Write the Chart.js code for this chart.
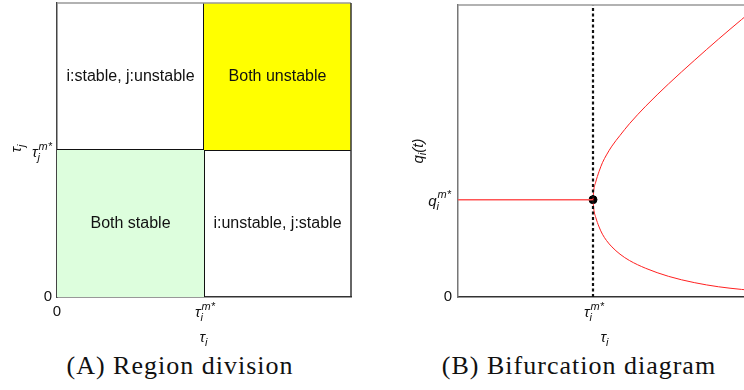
<!DOCTYPE html>
<html>
<head>
<meta charset="utf-8">
<script src="https://cdn.jsdelivr.net/npm/chart.js@4/dist/chart.umd.min.js"></script>
<style>
  html, body { margin:0; padding:0; background:#fff; overflow:hidden; width:744px; height:390px; }
  #wrapA { position:absolute; left:0; top:0; width:372px; height:350px; }
  #wrapB { position:absolute; left:380px; top:0; width:380px; height:350px; }
  .cap { position:absolute; top:351px; font-family:"Liberation Serif","DejaVu Serif",serif; font-size:26px; letter-spacing:1px; color:#111; white-space:nowrap; transform:translateX(-50%); }
</style>
</head>
<body>
<div id="wrapA"><canvas id="cA" width="372" height="350"></canvas></div>
<div id="wrapB"><canvas id="cB" width="380" height="350"></canvas></div>
<div class="cap" style="left:180px">(A) Region division</div>
<div class="cap" style="left:579px">(B) Bifurcation diagram</div>
<script>
// ---------- data: panel A (region division) ----------
const regionTicks = [0, 1];               // 0 and tau^{m*}
const regionNames = ['i:stable, j:unstable', 'Both unstable', 'Both stable', 'i:unstable, j:stable'];
const regionX = [0.5, 1.5, 0.5, 1.5];
const regionY = [1.5, 1.5, 0.5, 0.5];
const unstableX = [1, 2];   const unstableY = [2, 2];   // filled down to y = 1
const stableX = [0, 1];     const stableY = [1, 1];     // filled down to y = 0

// ---------- data: panel B (bifurcation) ----------
const tauStable = [0, 1];
const qStable = [1, 1];
const tauBranch = [1.0, 1.005, 1.02, 1.045, 1.07, 1.1, 1.14, 1.2, 1.27, 1.39, 1.56, 1.75, 1.93, 2.1, 2.15];
const qUpper    = [1.0, 1.09, 1.18, 1.29, 1.38, 1.46, 1.55, 1.66, 1.78, 1.96, 2.19, 2.43, 2.65, 2.85, 2.908];
const qLower    = [1.0, 0.91, 0.82, 0.72, 0.645, 0.58, 0.515, 0.44, 0.375, 0.295, 0.212, 0.148, 0.105, 0.078, 0.072];
const bifTau = 1, bifQ = 1;

const pts = (xs, ys) => xs.map((x, i) => ({x, y: ys[i]}));
const SANS = '"Liberation Sans", Arial, sans-serif';

// draw tau_i^{m*}-style label (base italic, subscript, superscript)
function drawMath(ctx, x, y, base, sub, sup, size, align, rot) {
  ctx.save();
  ctx.translate(x, y);
  if (rot) ctx.rotate(rot);
  const bf = 'italic ' + size + 'px ' + SANS;
  const sf = 'italic ' + Math.round(size * 0.72) + 'px ' + SANS;
  ctx.font = bf; const wb = ctx.measureText(base).width;
  ctx.font = sf;
  const ws = sub ? ctx.measureText(sub).width : 0;
  const wp = sup ? ctx.measureText(sup).width : 0;
  const w = wb + Math.max(ws, wp) + 1;
  let x0 = align === 'right' ? -w : (align === 'left' ? 0 : -w / 2);
  ctx.fillStyle = '#111';
  ctx.textBaseline = 'alphabetic';
  ctx.textAlign = 'left';
  ctx.font = bf; ctx.fillText(base, x0, size * 0.35);
  ctx.font = sf;
  if (sub) ctx.fillText(sub, x0 + wb, size * 0.35 + size * 0.28);
  if (sup) ctx.fillText(sup, x0 + wb + 1, size * 0.35 - size * 0.5);
  ctx.restore();
}

const fitY = w => s => { s.width = w; s.paddingTop = 0; s.paddingBottom = 0; };
const fitX = h => s => { s.height = h; s.paddingLeft = 0; s.paddingRight = 0; };

// ---------- Chart A ----------
const frameA = {
  id: 'frameA',
  afterDatasetsDraw(chart) {
    const {ctx, chartArea: a, scales} = chart;
    ctx.save();
    ctx.strokeStyle = '#999'; ctx.lineWidth = 1.5;
    ctx.beginPath(); ctx.moveTo(a.left, a.top); ctx.lineTo(a.right, a.top); ctx.stroke();
    ctx.strokeStyle = '#333';
    ctx.beginPath(); ctx.moveTo(a.right, a.top); ctx.lineTo(a.right, a.bottom); ctx.stroke();
    ctx.fillStyle = '#111'; ctx.font = '16px ' + SANS; ctx.textAlign = 'center'; ctx.textBaseline = 'middle';
    regionNames.forEach((t, i) => ctx.fillText(t, scales.x.getPixelForValue(regionX[i]), scales.y.getPixelForValue(regionY[i])));
    // math tick labels
    drawMath(ctx, scales.x.getPixelForValue(regionTicks[1]) + 1, a.bottom + 15, 'τ', 'i', 'm*', 15, 'center');
    drawMath(ctx, a.left - 5, scales.y.getPixelForValue(regionTicks[1]) + 2, 'τ', 'j', 'm*', 15, 'right');
    // axis titles
    drawMath(ctx, (a.left + a.right) / 2, a.bottom + 40, 'τ', 'i', '', 15, 'center');
    drawMath(ctx, 16, (a.top + a.bottom) / 2 - 2, 'τ', 'j', '', 15, 'center', -Math.PI / 2);
    ctx.restore();
  }
};

new Chart(document.getElementById('cA'), {
  type: 'scatter',
  data: {
    datasets: [
      { data: pts(unstableX, unstableY), showLine: true, fill: {value: 1}, backgroundColor: '#ffff00', borderWidth: 0, pointRadius: 0 },
      { data: pts(stableX, stableY), showLine: true, fill: 'origin', backgroundColor: '#ddfedd', borderWidth: 0, pointRadius: 0 },
      { data: pts([regionTicks[1], regionTicks[1]], [0, 2]), showLine: true, borderColor: '#111', borderWidth: 2, pointRadius: 0 },
      { data: pts([0, 2], [regionTicks[1], regionTicks[1]]), showLine: true, borderColor: '#111', borderWidth: 2, pointRadius: 0 }
    ]
  },
  options: {
    responsive: false, animation: false,
    layout: { padding: { left: 0, right: 21, top: 3, bottom: 0 } },
    plugins: { legend: { display: false }, tooltip: { enabled: false } },
    scales: {
      x: { type: 'linear', min: 0, max: 2, grid: { display: false, drawTicks: false },
           border: { display: true, color: '#333', width: 1.5 },
           afterBuildTicks: s => { s.ticks = regionTicks.map(v => ({value: v})); },
           afterFit: fitX(53),
           ticks: { padding: 6, color: '#111', font: { family: SANS, size: 15 }, callback: v => v === 0 ? '0' : '' } },
      y: { type: 'linear', min: 0, max: 2, grid: { display: false, drawTicks: false },
           border: { display: true, color: '#444', width: 1.5 },
           afterBuildTicks: s => { s.ticks = regionTicks.map(v => ({value: v})); },
           afterFit: fitY(57),
           ticks: { padding: 5, color: '#111', font: { family: SANS, size: 15 }, callback: v => v === 0 ? '0' : '' } }
    }
  },
  plugins: [frameA]
});

// ---------- Chart B ----------
const frameB = {
  id: 'frameB',
  afterDatasetsDraw(chart) {
    const {ctx, chartArea: a, scales} = chart;
    ctx.save();
    ctx.strokeStyle = '#999'; ctx.lineWidth = 1.5;
    ctx.beginPath(); ctx.moveTo(a.left, a.top); ctx.lineTo(a.right, a.top); ctx.stroke();
    drawMath(ctx, scales.x.getPixelForValue(bifTau) + 1, a.bottom + 15, 'τ', 'i', 'm*', 15, 'center');
    drawMath(ctx, a.left - 7, scales.y.getPixelForValue(bifQ) + 1, 'q', 'i', 'm*', 15, 'right');
    drawMath(ctx, scales.x.getPixelForValue(bifTau) + 12, a.bottom + 40, 'τ', 'i', '', 15, 'center');
    // y title q_i(t)
    ctx.translate(39, (a.top + a.bottom) / 2);
    ctx.rotate(-Math.PI / 2);
    ctx.fillStyle = '#111'; ctx.textBaseline = 'middle';
    ctx.font = 'italic 15px ' + SANS;
    const w1 = ctx.measureText('q').width;
    ctx.font = 'italic 11px ' + SANS;
    const w2 = ctx.measureText('i').width;
    ctx.font = 'italic 15px ' + SANS;
    const w3 = ctx.measureText('(t)').width;
    const tot = w1 + w2 + w3;
    let x0 = -tot / 2;
    ctx.fillText('q', x0, 0);
    ctx.font = 'italic 11px ' + SANS; ctx.fillText('i', x0 + w1, 4);
    ctx.font = 'italic 15px ' + SANS; ctx.fillText('(t)', x0 + w1 + w2, 0);
    ctx.restore();
  }
};

new Chart(document.getElementById('cB'), {
  type: 'scatter',
  data: {
    datasets: [
      { data: pts([bifTau, bifTau], [0, 3]), showLine: true, borderColor: '#111', borderWidth: 2.2, borderDash: [3, 2.5], pointRadius: 0 },
      { data: pts(tauStable, qStable), showLine: true, borderColor: '#ff5555', borderWidth: 1.5, pointRadius: 0 },
      { data: pts(tauBranch, qUpper), showLine: true, borderColor: '#ff2020', borderWidth: 1, pointRadius: 0, cubicInterpolationMode: 'monotone' },
      { data: pts(tauBranch, qLower), showLine: true, borderColor: '#ff2020', borderWidth: 1, pointRadius: 0, cubicInterpolationMode: 'monotone' },
      { data: [{x: bifTau, y: bifQ}], pointRadius: 4, pointBackgroundColor: '#000', pointBorderColor: '#000' }
    ]
  },
  options: {
    responsive: false, animation: false,
    layout: { padding: { left: 0, right: 0, top: 3, bottom: 0 } },
    plugins: { legend: { display: false }, tooltip: { enabled: false } },
    scales: {
      x: { type: 'linear', min: 0, max: 2.2, grid: { display: false, drawTicks: false },
           border: { display: true, color: '#333', width: 1.5 },
           afterBuildTicks: s => { s.ticks = [{value: bifTau}]; },
           afterFit: fitX(53),
           ticks: { padding: 6, callback: () => '' } },
      y: { type: 'linear', min: 0, max: 3, grid: { display: false, drawTicks: false },
           border: { display: true, color: '#777', width: 1.5 },
           afterBuildTicks: s => { s.ticks = [{value: 0}, {value: bifQ}]; },
           afterFit: fitY(78),
           ticks: { padding: 6, color: '#111', font: { family: SANS, size: 15 }, callback: v => v === 0 ? '0' : '' } }
    }
  },
  plugins: [frameB]
});
</script>
</body>
</html>
